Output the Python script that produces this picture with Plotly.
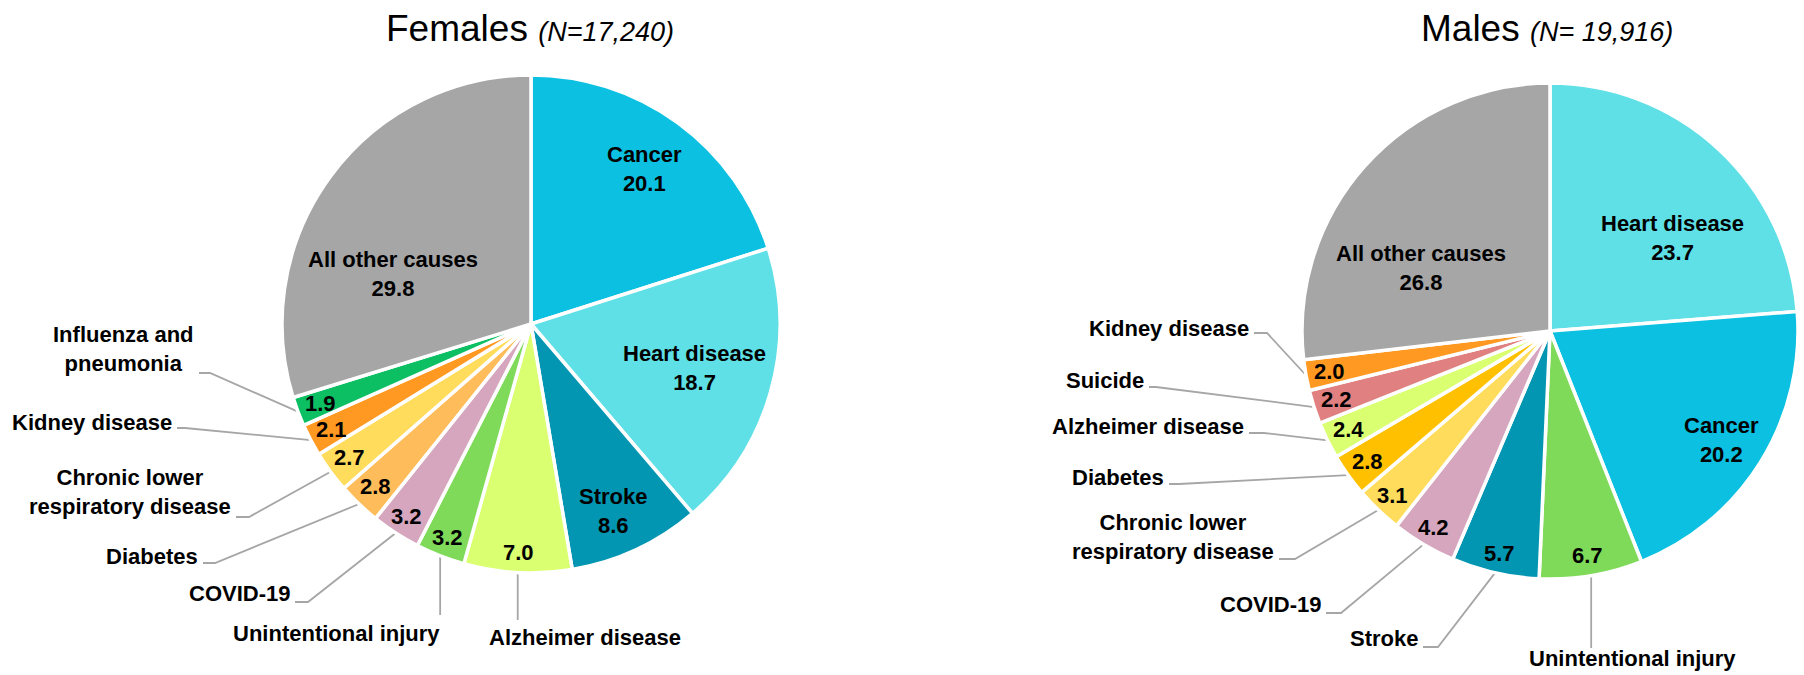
import math
import plotly.graph_objects as go

# Leading causes of death, percent of all deaths
female_causes = ["Cancer", "Heart disease", "Stroke", "Alzheimer disease", "Unintentional injury",
                 "COVID-19", "Diabetes", "Chronic lower respiratory disease", "Kidney disease",
                 "Influenza and pneumonia", "All other causes"]
female_values = [20.1, 18.7, 8.6, 7.0, 3.2, 3.2, 2.8, 2.7, 2.1, 1.9, 29.8]
female_colors = ["#0BC0E0", "#5EE0E6", "#0396B2", "#DAFF70", "#80DA5A", "#D5A6BD",
                 "#FFBC5A", "#FFDC5C", "#FF9922", "#0CBF63", "#A6A6A6"]

male_causes = ["Heart disease", "Cancer", "Unintentional injury", "Stroke", "COVID-19",
               "Chronic lower respiratory disease", "Diabetes", "Alzheimer disease", "Suicide",
               "Kidney disease", "All other causes"]
male_values = [23.7, 20.2, 6.7, 5.7, 4.2, 3.1, 2.8, 2.4, 2.2, 2.0, 26.8]
male_colors = ["#5EE0E6", "#0BC0E0", "#80DA5A", "#0396B2", "#D5A6BD", "#FFDC5C",
               "#FFC000", "#DAFF70", "#E08080", "#FF9922", "#A6A6A6"]

W, H = 1804, 675
LABEL_FONT = "Liberation Sans, Arial, sans-serif"
TITLE_FONT = "Liberation Sans, Arial, sans-serif"
LABEL_SIZE = 22
LINE_COLOR = "#A6A6A6"

# pie geometry (pixels): centre x, centre y, radius
pies = {
    "f": dict(cx=531, cy=324, r=249),
    "m": dict(cx=1550, cy=331, r=248),
}

# slices whose name is printed inside: name -> (radius fraction, angle tweak)
inside_named = {
    "f": {"Cancer": (0.77, 0), "Heart disease": (0.68, -1), "Stroke": (0.82, 1.4),
          "All other causes": (0.59, -16.7)},
    "m": {"Heart disease": (0.62, 10), "Cancer": (0.82, 0.4),
          "All other causes": (0.58, -15.7)},
}

# outside labels: name -> (text centre x, text centre y, line start x, line y, elbow x)
# elbow x None -> vertical leader straight down from the slice
outside = {
    "f": {
        "Influenza and pneumonia": (131, 349, 199, 373, 210),
        "Kidney disease": (91, 422, 177, 428, 185),
        "Chronic lower respiratory disease": (126, 492, 236, 517, 249),
        "Diabetes": (150, 556, 203, 563, 215),
        "COVID-19": (237, 593, 295, 602, 308),
        "Unintentional injury": (336, 633, None, 615, None),
        "Alzheimer disease": (585, 637, None, 620, None),
    },
    "m": {
        "Kidney disease": (1168, 328, 1254, 333, 1267),
        "Suicide": (1107, 380, 1149, 387, 1156),
        "Alzheimer disease": (1146, 426, 1249, 433, 1264),
        "Diabetes": (1118, 477, 1169, 484, 1179),
        "Chronic lower respiratory disease": (1173, 537, 1279, 559, 1295),
        "COVID-19": (1269, 604, 1326, 613, 1341),
        "Stroke": (1386, 638, 1423, 647, 1438),
        "Unintentional injury": (1632, 658, None, 648, None),
    },
}

display_names = {
    "Influenza and pneumonia": "Influenza and<br>pneumonia",
    "Chronic lower respiratory disease": "Chronic lower<br>respiratory disease",
}

fig = go.Figure()
annotations = []
label_font = dict(family=LABEL_FONT, size=LABEL_SIZE, color="black", weight="bold")


def polar(p, theta, rho):
    t = math.radians(theta)
    return p["cx"] + rho * p["r"] * math.sin(t), p["cy"] - rho * p["r"] * math.cos(t)


for key, causes, values, colors in [("f", female_causes, female_values, female_colors),
                                    ("m", male_causes, male_values, male_colors)]:
    p = pies[key]
    fig.add_trace(go.Pie(
        labels=causes, values=values, sort=False, direction="clockwise", rotation=0,
        marker=dict(colors=colors, line=dict(color="white", width=3.5)),
        textinfo="none", hoverinfo="label+value", showlegend=False,
        domain=dict(x=[(p["cx"] - p["r"]) / W, (p["cx"] + p["r"]) / W],
                    y=[1 - (p["cy"] + p["r"]) / H, 1 - (p["cy"] - p["r"]) / H]),
    ))
    total = sum(values)
    cum = 0
    for name, v in zip(causes, values):
        mid = 360 * (cum + v / 2) / total
        cum += v
        # value label inside the slice
        if name in inside_named[key]:
            rho, tweak = inside_named[key][name]
            txt = name + "<br>" + f"{v:.1f}"
        else:
            rho, tweak = (0.92 if v > 3 else 0.905), 0
            txt = f"{v:.1f}"
        x, y = polar(p, mid + tweak, rho)
        annotations.append(dict(x=x, y=y, xref="x", yref="y", text=txt, showarrow=False,
                                font=label_font, xanchor="center", yanchor="middle"))
        # outside label with leader line
        if name in outside[key]:
            tx, ty, lx, ly, ex = outside[key][name]
            edge_x, edge_y = polar(p, mid, 1.0)
            if ex is None:
                xs, ys = [edge_x, edge_x], [edge_y, ly]
                annotations.append(dict(x=tx, y=ty, xref="x", yref="y",
                                        text=display_names.get(name, name), showarrow=False,
                                        font=label_font, xanchor="center", yanchor="middle"))
            else:
                xs, ys = [lx, ex, edge_x], [ly, ly, edge_y]
                annotations.append(dict(x=lx - 3, y=ty, xref="x", yref="y",
                                        text=display_names.get(name, name), showarrow=False,
                                        align="center", font=label_font,
                                        xanchor="right", yanchor="middle"))
            fig.add_trace(go.Scatter(x=xs, y=ys, mode="lines", hoverinfo="skip",
                                     line=dict(color=LINE_COLOR, width=1.8), showlegend=False))

# titles
titles = [(530, 28, "Females <span style='font-size:27px'><i>(N=17,240)</i></span>"),
          (1547, 28, "Males <span style='font-size:27px'><i>(N= 19,916)</i></span>")]
for x, y, t in titles:
    annotations.append(dict(x=x, y=y, xref="x", yref="y", text=t, showarrow=False,
                            font=dict(family=TITLE_FONT, size=37, color="black"),
                            xanchor="center", yanchor="middle"))

fig.update_layout(
    width=W, height=H,
    margin=dict(l=0, r=0, t=0, b=0),
    paper_bgcolor="white", plot_bgcolor="rgba(0,0,0,0)",
    xaxis=dict(range=[0, W], visible=False, fixedrange=True, domain=[0, 1]),
    yaxis=dict(range=[H, 0], visible=False, fixedrange=True, domain=[0, 1]),
    annotations=annotations,
)

# drop the browser's default body margin so the figure sits at the page corner
fig.write_html("out.html", config={"displayModeBar": False},
               post_script="document.body.style.margin='0';")
